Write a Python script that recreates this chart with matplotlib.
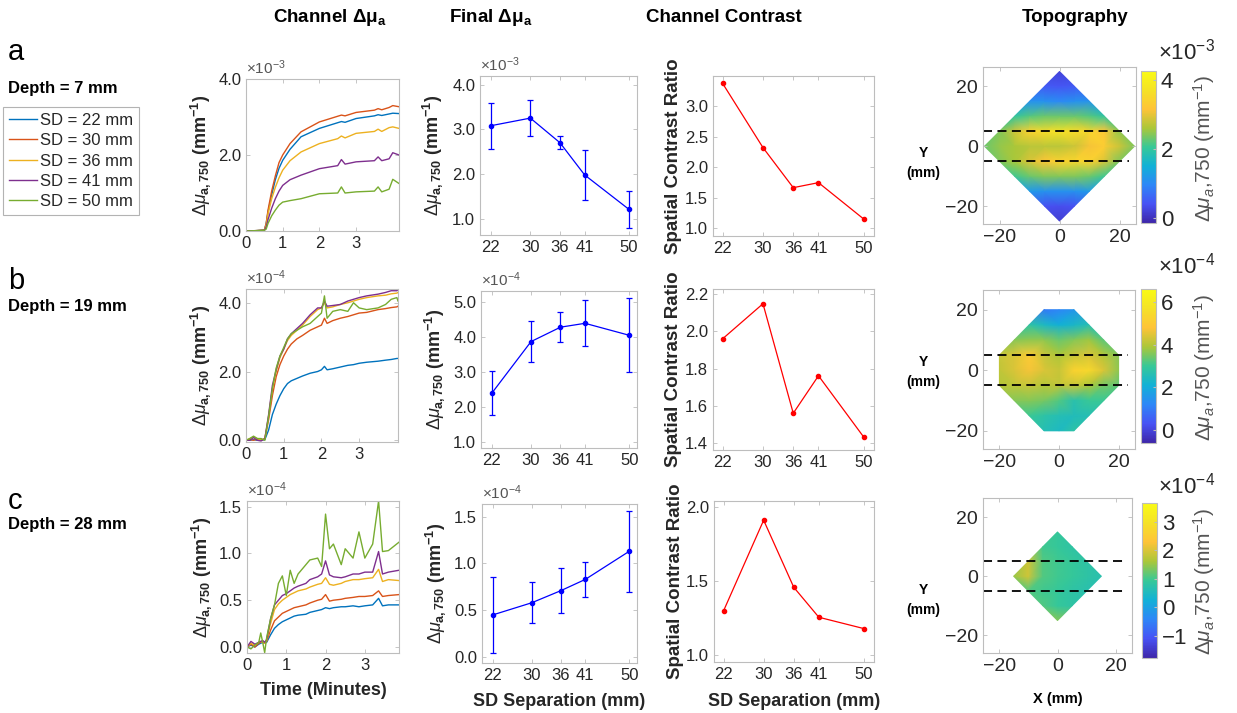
import numpy as np
import matplotlib
matplotlib.use("Agg")
import matplotlib.pyplot as plt
import matplotlib.tri as mtri
from matplotlib.colors import LinearSegmentedColormap

plt.rcParams["font.family"] = ["Liberation Sans", "DejaVu Sans"]
plt.rcParams["mathtext.fontset"] = "custom"
plt.rcParams["mathtext.rm"] = "Liberation Sans"
plt.rcParams["mathtext.it"] = "Liberation Sans:italic"
plt.rcParams["mathtext.bf"] = "Liberation Sans:bold"

W, H = 1237, 713

# ---------------- data ----------------
sd_labels = ["SD = 22 mm", "SD = 30 mm", "SD = 36 mm", "SD = 41 mm", "SD = 50 mm"]
sd_sep = [22, 30, 36, 41, 50]

# channel time courses (row a in 1e-3 mm^-1, rows b/c in 1e-4 mm^-1)
t_a = [0.0, 0.3, 0.5, 0.55, 0.6, 0.7, 0.8, 0.9, 1.0, 1.2, 1.5, 2.0, 2.5, 2.6, 2.7,
       3.0, 3.5, 3.6, 3.7, 3.9, 4.0, 4.17]
ch_a = [
    [0, 0.01, 0.02, 0.2, 0.5, 0.95, 1.35, 1.65, 1.86, 2.15, 2.48, 2.70, 2.85, 2.88, 2.86,
     2.96, 3.03, 3.06, 3.04, 3.08, 3.10, 3.09],
    [0, 0.01, 0.02, 0.2, 0.55, 1.05, 1.45, 1.8, 2.0, 2.3, 2.61, 2.87, 3.02, 3.05, 3.03,
     3.12, 3.18, 3.22, 3.19, 3.25, 3.30, 3.27],
    [0, 0.01, 0.02, 0.15, 0.45, 0.85, 1.15, 1.4, 1.6, 1.85, 2.08, 2.30, 2.43, 2.50, 2.45,
     2.57, 2.62, 2.68, 2.62, 2.72, 2.74, 2.70],
    [0, 0.01, 0.02, 0.1, 0.3, 0.6, 0.85, 1.05, 1.2, 1.35, 1.47, 1.64, 1.72, 1.88, 1.76,
     1.82, 1.85, 1.95, 1.85, 1.90, 2.06, 2.0],
    [0, 0.01, 0.02, 0.05, 0.2, 0.4, 0.55, 0.68, 0.76, 0.8, 0.85, 0.98, 1.0, 1.16, 1.0,
     1.03, 1.05, 1.16, 1.03, 1.10, 1.36, 1.25],
]
t_b = [0.0, 0.1, 0.2, 0.3, 0.4, 0.5, 0.6, 0.7, 0.8, 0.9, 1.0, 1.1, 1.2, 1.35, 1.5, 1.7,
       1.9, 2.0, 2.08, 2.15, 2.3, 2.5, 2.7, 2.85, 3.0, 3.2, 3.5, 3.7, 3.85, 4.0, 4.03]
ch_b = [
    [0.0, 0.0, 0.02, 0.0, 0.0, 0.02, 0.3, 0.75, 1.05, 1.3, 1.5, 1.65, 1.73, 1.8, 1.87, 1.95,
     2.0, 2.05, 2.15, 2.05, 2.08, 2.13, 2.18, 2.2, 2.24, 2.27, 2.3, 2.33, 2.35, 2.38, 2.38],
    [0.0, 0.02, 0.0, 0.03, 0.0, 0.05, 0.6, 1.3, 1.85, 2.2, 2.45, 2.65, 2.8, 2.95, 3.05, 3.2,
     3.3, 3.35, 3.55, 3.4, 3.48, 3.55, 3.6, 3.65, 3.7, 3.72, 3.8, 3.83, 3.86, 3.88, 3.9],
    [0.0, 0.05, 0.1, 0.05, 0.0, 0.05, 0.7, 1.5, 2.0, 2.4, 2.65, 2.9, 3.05, 3.2, 3.35, 3.6,
     3.8, 3.85, 4.0, 3.85, 3.88, 3.95, 4.0, 4.05, 4.1, 4.15, 4.2, 4.22, 4.26, 4.28, 4.3],
    [0.0, 0.0, 0.08, 0.0, -0.02, 0.05, 0.75, 1.6, 2.05, 2.45, 2.65, 2.95, 3.1, 3.25, 3.4, 3.65,
     3.85, 3.85, 4.05, 3.9, 3.92, 3.95, 4.05, 4.1, 4.15, 4.2, 4.25, 4.3, 4.35, 4.35, 4.38],
    [0.0, 0.05, 0.12, 0.05, 0.05, 0.0, 0.7, 1.5, 2.1, 2.45, 2.7, 2.95, 3.1, 3.2, 3.3, 3.4,
     3.6, 3.7, 4.2, 3.55, 3.75, 3.8, 3.75, 4.0, 3.85, 3.8, 3.85, 3.95, 4.1, 4.15, 4.05],
]
t_c = [0.0, 0.1, 0.2, 0.3, 0.35, 0.4, 0.45, 0.5, 0.6, 0.7, 0.8, 0.9, 1.0, 1.1, 1.2, 1.3,
       1.5, 1.6, 1.8, 1.9, 2.0, 2.1, 2.2, 2.4, 2.5, 2.7, 2.85, 3.0, 3.2, 3.35, 3.45, 3.6, 3.87]
ch_c = [
    [0.0, 0.02, 0.0, 0.03, 0.04, 0.05, 0.04, 0.05, 0.13, 0.2, 0.24, 0.27, 0.29, 0.31, 0.33, 0.34,
     0.35, 0.37, 0.39, 0.4, 0.42, 0.41, 0.42, 0.43, 0.43, 0.44, 0.43, 0.44, 0.45, 0.52, 0.44, 0.45, 0.45],
    [0.0, 0.03, 0.0, 0.04, 0.05, 0.06, 0.04, 0.06, 0.18, 0.28, 0.32, 0.36, 0.38, 0.4, 0.42, 0.43,
     0.45, 0.47, 0.5, 0.51, 0.56, 0.49, 0.5, 0.51, 0.52, 0.53, 0.54, 0.54, 0.55, 0.60, 0.54, 0.55, 0.56],
    [0.0, 0.04, 0.02, 0.05, 0.06, 0.05, 0.04, 0.07, 0.25, 0.4, 0.46, 0.5, 0.53, 0.56, 0.58, 0.6,
     0.62, 0.64, 0.67, 0.68, 0.74, 0.67, 0.66, 0.68, 0.70, 0.72, 0.72, 0.73, 0.74, 0.83, 0.70, 0.72, 0.71],
    [0.0, 0.06, 0.03, 0.05, 0.06, 0.07, 0.05, 0.08, 0.3, 0.45, 0.5, 0.55, 0.57, 0.6, 0.63, 0.65,
     0.68, 0.72, 0.75, 0.78, 0.92, 0.77, 0.75, 0.74, 0.75, 0.78, 0.78, 0.80, 0.80, 1.02, 0.78, 0.80, 0.82],
    [0.0, -0.02, 0.02, 0.05, 0.15, 0.05, -0.06, 0.1, 0.3, 0.45, 0.68, 0.76, 0.55, 0.82, 0.68, 0.78,
     0.88, 0.93, 0.95, 0.86, 1.42, 1.05, 1.1, 0.88, 1.05, 0.95, 1.23, 0.95, 1.1, 1.56, 1.02, 1.03, 1.12],
]

# final change per separation (mean, error)
final_a = [3.08, 3.25, 2.70, 1.98, 1.21]
final_a_err = [0.51, 0.40, 0.15, 0.56, 0.41]
final_b = [2.40, 3.87, 4.28, 4.39, 4.05]
final_b_err = [0.63, 0.58, 0.42, 0.66, 1.06]
final_c = [0.45, 0.58, 0.71, 0.83, 1.13]
final_c_err = [0.41, 0.22, 0.24, 0.19, 0.435]

# spatial contrast ratio
contrast_a = [3.37, 2.32, 1.665, 1.747, 1.15]
contrast_b = [1.96, 2.148, 1.561, 1.762, 1.432]
contrast_c = [1.296, 1.91, 1.456, 1.253, 1.176]

# topography node values (rows: y from top to bottom, cols: x from left to right)
n = np.nan
topo_xy_ab = [-25, -20, -15, -10, -5, 0, 5, 10, 15, 20, 25]
topo_a = [  # 1e-3
    [n, n, n, n, n, 0.2, n, n, n, n, n],
    [n, n, n, n, 0.5, 0.45, 0.5, n, n, n, n],
    [n, n, n, 1.1, 1.1, 1.0, 1.1, 1.1, n, n, n],
    [n, n, 2.0, 2.2, 2.3, 2.3, 2.3, 2.2, 2.0, n, n],
    [n, 2.4, 2.8, 3.4, 3.6, 3.7, 3.6, 3.5, 3.2, 2.5, n],
    [2.3, 2.5, 2.6, 2.7, 2.7, 2.7, 2.8, 3.1, 3.3, 2.8, 2.4],
    [n, 2.4, 2.6, 2.9, 3.2, 3.4, 3.5, 3.4, 2.9, 2.4, n],
    [n, n, 2.1, 2.3, 2.4, 2.4, 2.4, 2.3, 2.1, n, n],
    [n, n, n, 1.2, 1.1, 1.1, 1.1, 1.2, n, n, n],
    [n, n, n, n, 0.4, 0.35, 0.4, n, n, n, n],
    [n, n, n, n, n, 0.15, n, n, n, n, n],
]
topo_xy_b = [-20, -15, -10, -5, 0, 5, 10, 15, 20]
topo_b = [  # 1e-4
    [n, n, n, 1.0, 1.2, 1.5, n, n, n],
    [n, n, 2.8, 2.4, 2.1, 2.3, 2.6, n, n],
    [n, 3.6, 3.7, 3.7, 3.4, 3.6, 3.8, 3.3, n],
    [4.2, 4.4, 5.0, 4.2, 3.9, 4.2, 4.4, 4.0, 3.6],
    [4.1, 4.4, 4.7, 4.4, 4.2, 5.2, 5.4, 4.4, 3.7],
    [4.0, 4.1, 4.2, 4.0, 4.1, 4.2, 3.9, 3.5, 3.3],
    [n, 3.6, 3.6, 3.5, 3.2, 2.7, 3.0, 3.0, n],
    [n, n, 3.0, 2.8, 2.6, 2.5, 2.6, n, n],
    [n, n, n, 2.6, 2.4, 2.8, n, n, n],
]
topo_xy_c = [-15, -10, -5, 0, 5, 10, 15]
topo_c = [  # 1e-4
    [n, n, n, 0.9, n, n, n],
    [n, n, 1.0, 0.9, 0.8, n, n],
    [n, 1.9, 1.1, 1.0, 0.9, 0.8, n],
    [1.5, 1.9, 1.1, 1.0, 0.9, 0.8, 0.7],
    [n, 1.1, 1.0, 0.9, 0.8, 0.7, n],
    [n, n, 1.1, 0.9, 0.8, n, n],
    [n, n, n, 1.4, n, n, n],
]
band_y = [-5, 5]

# ---------------- style ----------------
line_colors = ["#0072BD", "#D95319", "#EDB120", "#7E2F8E", "#77AC30"]
parula = LinearSegmentedColormap.from_list(
    "parula", [(0.2422, 0.1504, 0.6603), (0.2810, 0.3228, 0.9579), (0.1786, 0.5289, 0.9682),
               (0.0689, 0.6948, 0.8394), (0.2161, 0.7843, 0.5923), (0.6720, 0.7793, 0.2227),
               (0.9970, 0.7659, 0.2199), (0.9598, 0.8870, 0.1524), (0.9769, 0.9839, 0.0805)])
TXT = "#262626"
EDGE = "#bdbdbd"


def rect(l, t, r, b):
    return [l / W, 1 - b / H, (r - l) / W, (b - t) / H]


def style(ax, fs=11):
    for s in ax.spines.values():
        s.set_color(EDGE)
        s.set_linewidth(0.8)
    ax.tick_params(direction="in", top=True, right=True, length=3, width=0.6,
                   color=EDGE, labelcolor=TXT, labelsize=fs)


fig = plt.figure(figsize=(W / 100, H / 100), dpi=100)

ylab_mu = r"$\Delta\mu_{\mathbf{a,750}}$ (mm$^{\mathbf{-1}}$)"

# ---------- column 1: channel time courses ----------
col1 = [
    ((246, 79, 399, 231), t_a, ch_a, (0, 4.17), (0, 4.0), [0, 2, 4], r"$\times10^{-3}$"),
    ((246, 289, 398, 442), t_b, ch_b, (0, 4.03), (-0.05, 4.4), [0, 2, 4], r"$\times10^{-4}$"),
    ((247, 501, 399, 653), t_c, ch_c, (0, 3.87), (-0.064, 1.56), [0, 0.5, 1.0, 1.5], r"$\times10^{-4}$"),
]
handles = []
for i, (r, t, chans, xl, yl, yt, expo) in enumerate(col1):
    ax = fig.add_axes(rect(*r))
    for k, vals in enumerate(chans):
        h, = ax.plot(t, vals, color=line_colors[k], lw=1.0)
        if i == 0:
            handles.append(h)
    ax.set_xlim(*xl)
    ax.set_ylim(*yl)
    ax.set_xticks([0, 1, 2, 3])
    ax.set_yticks(yt)
    ax.yaxis.set_major_formatter(matplotlib.ticker.FormatStrFormatter("%.1f"))
    style(ax, 12)
    ax.text(0.0, 1.01, expo, transform=ax.transAxes, ha="left", va="bottom",
            fontsize=11, color="#555555")
    ax.set_ylabel(ylab_mu, fontsize=13, fontweight="bold", color=TXT)
    ax.yaxis.set_label_coords(-0.215, 0.5)
    if i == 2:
        ax.set_xlabel("Time (Minutes)", fontsize=13, fontweight="bold", color=TXT)
        ax.xaxis.set_label_coords(0.5, -0.19)

# ---------- column 2: final change ----------
col2 = [
    ((480, 76, 637, 235), final_a, final_a_err, (0.64, 4.19), [1, 2, 3, 4], r"$\times10^{-3}$"),
    ((481, 291, 637, 448), final_b, final_b_err, (0.84, 5.31), [1, 2, 3, 4, 5], r"$\times10^{-4}$"),
    ((482, 504, 637, 663), final_c, final_c_err, (-0.064, 1.636), [0, 0.5, 1.0, 1.5], r"$\times10^{-4}$"),
]
for i, (r, vals, err, yl, yt, expo) in enumerate(col2):
    ax = fig.add_axes(rect(*r))
    ax.errorbar(sd_sep, vals, yerr=err, color="#0000ff", lw=0.9, elinewidth=0.9,
                capsize=2.5, capthick=0.9, marker="o", ms=3)
    ax.set_xlim(19.8, 51.6)
    ax.set_ylim(*yl)
    ax.set_xticks(sd_sep)
    ax.set_yticks(yt)
    ax.yaxis.set_major_formatter(matplotlib.ticker.FormatStrFormatter("%.1f"))
    style(ax, 12)
    ax.text(0.0, 1.01, expo, transform=ax.transAxes, ha="left", va="bottom",
            fontsize=11, color="#555555")
    ax.set_ylabel(ylab_mu, fontsize=13, fontweight="bold", color=TXT)
    ax.yaxis.set_label_coords(-0.22, 0.5)
    if i == 2:
        ax.set_xlabel("SD Separation (mm)", fontsize=13, fontweight="bold", color=TXT)
        ax.xaxis.set_label_coords(0.5, -0.19)

# ---------- column 3: spatial contrast ratio ----------
col3 = [
    ((713, 76, 874, 236), contrast_a, (0.875, 3.49), [1.0, 1.5, 2.0, 2.5, 3.0]),
    ((713, 289, 874, 450), contrast_b, (1.364, 2.227), [1.4, 1.6, 1.8, 2.0, 2.2]),
    ((714, 501, 874, 662), contrast_c, (0.95, 2.04), [1.0, 1.5, 2.0]),
]
for i, (r, vals, yl, yt) in enumerate(col3):
    ax = fig.add_axes(rect(*r))
    ax.plot(sd_sep, vals, color="#ff0000", lw=0.9, marker="o", ms=3)
    ax.set_xlim(20.1, 52)
    ax.set_ylim(*yl)
    ax.set_xticks(sd_sep)
    ax.set_yticks(yt)
    ax.yaxis.set_major_formatter(matplotlib.ticker.FormatStrFormatter("%.1f"))
    style(ax, 12)
    ax.set_ylabel("Spatial Contrast Ratio", fontsize=13.5, fontweight="bold", color=TXT)
    ax.yaxis.set_label_coords(-0.19, 0.5)
    if i == 2:
        ax.set_xlabel("SD Separation (mm)", fontsize=13, fontweight="bold", color=TXT)
        ax.xaxis.set_label_coords(0.5, -0.19)

# ---------- column 4: topography ----------
col4 = [
    ((983, 67, 1136, 224), (1141, 71, 1156, 223), topo_xy_ab, topo_a, (-0.15, 4.26), [0, 2, 4],
     r"$\times10^{-3}$", 52, 163, 148),
    ((983, 290, 1135, 449), (1141, 289, 1156, 443), topo_xy_b, topo_b, (-0.6, 6.6), [0, 2, 4, 6],
     r"$\times10^{-4}$", 266, 372, 367),
    ((983, 498, 1132, 653), (1142, 503, 1157, 658), topo_xy_c, topo_c, (-1.77, 3.65), [-1, 0, 1, 2, 3],
     r"$\times10^{-4}$", 486, 600, 581),
]
for i, (r, cr, xy, grid, clim, ct, expo, ey, yy, ly) in enumerate(col4):
    ax = fig.add_axes(rect(*r))
    gx, gy = np.meshgrid(xy, xy[::-1])
    z = np.array(grid, dtype=float)
    ok = ~np.isnan(z)
    tri = mtri.Triangulation(gx[ok], gy[ok])
    im = ax.tripcolor(tri, z[ok], shading="gouraud", cmap=parula, vmin=clim[0], vmax=clim[1])
    for yb in band_y:
        ax.plot([-25.5, 23], [yb, yb], color="k", ls=(0, (5, 3)), lw=1.3)
    ax.set_xlim(-25.5, 25.5)
    ax.set_ylim(-26, 26.5)
    ax.set_xticks([-20, 0, 20])
    ax.set_yticks([-20, 0, 20])
    style(ax, 14)
    cax = fig.add_axes(rect(*cr))
    cb = fig.colorbar(im, cax=cax)
    cb.set_ticks(ct)
    cb.outline.set_edgecolor(EDGE)
    cax.tick_params(labelsize=16, labelcolor=TXT, direction="in", length=2, color=EDGE)
    fig.text(1158 / W, 1 - ey / H, expo, fontsize=16, color=TXT, ha="left", va="center")
    fig.text(1204 / W, 1 - ly / H, r"$\Delta\mu_a$,750 (mm$^{-1}$)", rotation=90,
             fontsize=15, color="#555555", ha="center", va="center")
    fig.text(923 / W, 1 - yy / H, "Y\n(mm)", fontsize=10, fontweight="bold",
             ha="center", va="center", linespacing=1.6)
    if i == 2:
        ax.set_xlabel("X (mm)", fontsize=10.5, fontweight="bold", color="k")
        ax.xaxis.set_label_coords(0.5, -0.25)

# ---------- titles, row labels, legend ----------
titles = [r"Channel Δμ$_\mathbf{a}$", r"Final Δμ$_\mathbf{a}$", "Channel Contrast", "Topography"]
title_x = [330, 491, 724, 1075]
for tx, tt in zip(title_x, titles):
    fig.text(tx / W, 1 - 17 / H, tt, fontsize=13.5, fontweight="bold", ha="center", va="center")

row_letters = ["a", "b", "c"]
row_depths = ["Depth = 7 mm", "Depth = 19 mm", "Depth = 28 mm"]
letter_y = [52, 281, 501]
depth_y = [89, 306, 525]
for lt, dt, ly, dy in zip(row_letters, row_depths, letter_y, depth_y):
    fig.text(8 / W, 1 - ly / H, lt, fontsize=21, ha="left", va="center")
    fig.text(8 / W, 1 - dy / H, dt, fontsize=12, fontweight="bold", ha="left", va="center")

leg = fig.legend(handles, sd_labels, loc="upper left", bbox_to_anchor=(3 / W, 1 - 107 / H),
                 fontsize=12, frameon=True, fancybox=False, edgecolor="#a0a0a0",
                 handlelength=1.7, handletextpad=0.15, borderpad=0.35, labelspacing=0.32,
                 borderaxespad=0)
leg.get_frame().set_linewidth(0.8)
for txt in leg.get_texts():
    txt.set_color(TXT)

fig.savefig("out.png", dpi=100)
